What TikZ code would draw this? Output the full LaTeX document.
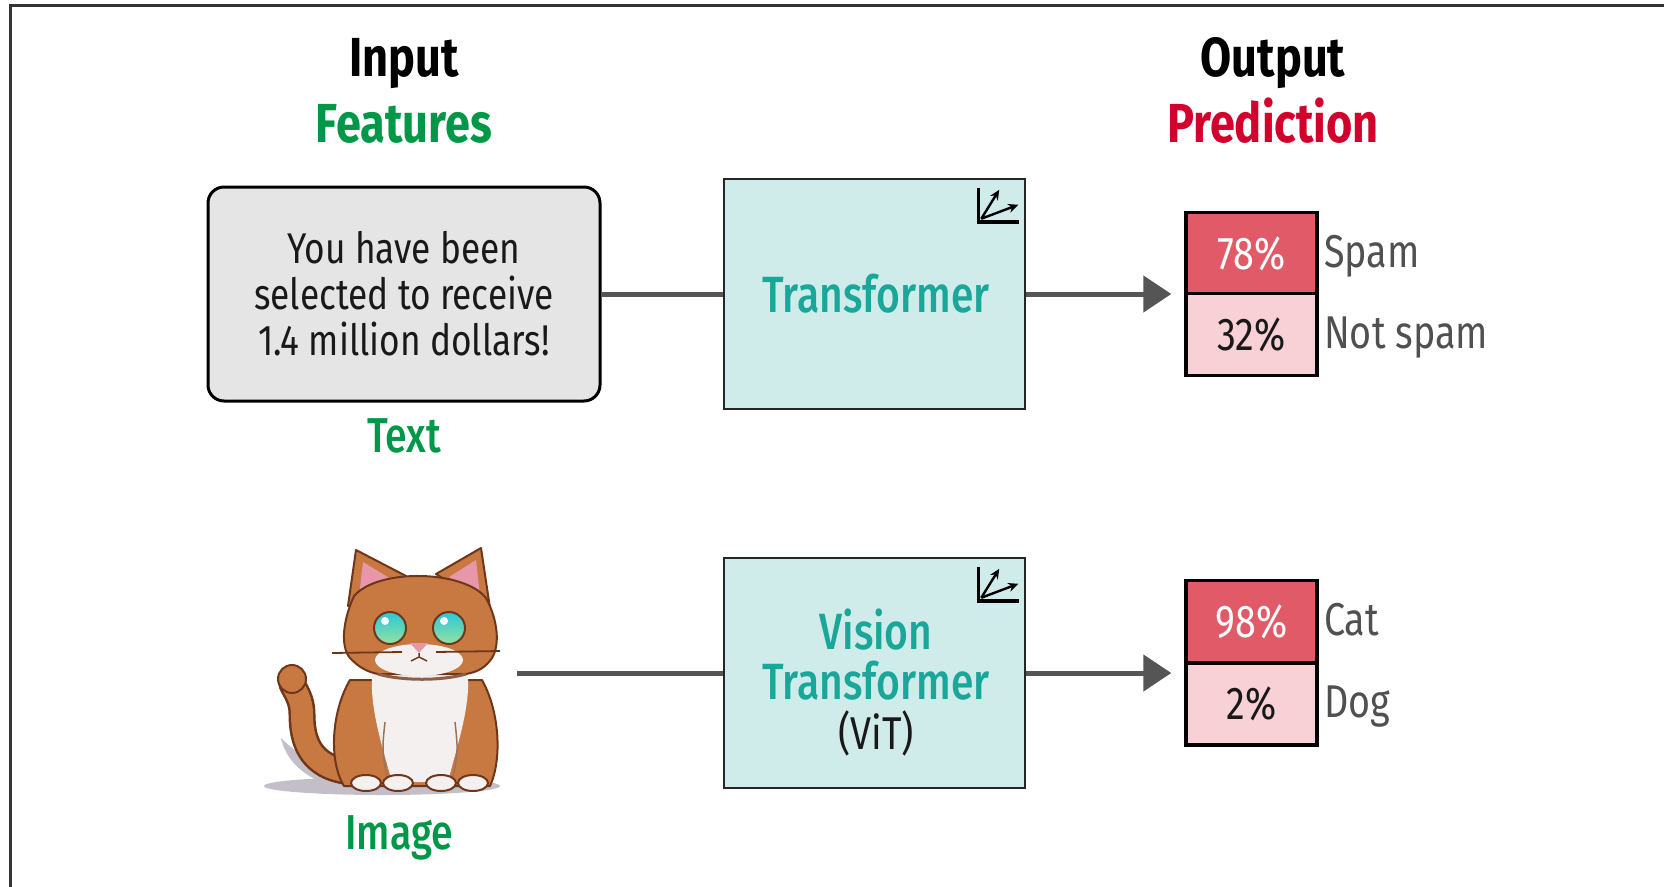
\documentclass[tikz,border=0pt]{standalone}
\usepackage{fontspec}
\setmainfont{Fira Sans}[FakeStretch=0.82]
\newfontfamily\medfont{Fira Sans Medium}[FakeStretch=0.8]
\usetikzlibrary{arrows.meta}

\definecolor{featgreen}{RGB}{0,152,72}
\definecolor{predred}{RGB}{210,0,45}
\definecolor{tealtext}{RGB}{26,167,154}
\definecolor{tealfill}{RGB}{208,236,234}
\definecolor{boxgray}{RGB}{229,229,229}
\definecolor{linkgray}{RGB}{85,85,85}
\definecolor{redhi}{RGB}{225,90,104}
\definecolor{redlo}{RGB}{248,209,214}
\definecolor{labelgray}{RGB}{80,80,80}
\definecolor{inktext}{RGB}{25,25,25}
\definecolor{catorange}{RGB}{200,120,65}
\definecolor{catdark}{RGB}{110,55,25}
\definecolor{catwhite}{RGB}{245,240,240}
\definecolor{catpink}{RGB}{232,150,170}
\definecolor{catshadow}{RGB}{195,190,200}
\definecolor{eyecyan}{RGB}{40,200,215}
\definecolor{eyegreen}{RGB}{150,225,160}

\tikzset{
  headtxt/.style={font=\bfseries\fontsize{55}{60}\selectfont, inner sep=0pt, anchor=base},
  sidelabel/.style={font=\medfont\fontsize{49}{55}\selectfont, text=featgreen, inner sep=0pt, anchor=base},
  graybox/.style={draw=black, line width=3pt, fill=boxgray, rounded corners=16pt,
    minimum width=392pt, minimum height=214pt, align=center, text=inktext,
    font=\fontsize{43}{46}\selectfont},
  tbox/.style={draw=black!85, line width=2.5pt, fill=tealfill,
    minimum width=301pt, minimum height=230pt},
  tflabel/.style={font=\medfont\fontsize{51}{50}\selectfont, text=tealtext, align=center, inner sep=0pt},
  link/.style={draw=linkgray, line width=5pt},
  arrowlink/.style={link, -{Triangle[length=28pt, width=36pt]}, shorten >=13pt},
  probcell/.style={draw=black, line width=3.5pt, minimum width=131pt, minimum height=82pt,
    inner sep=0pt, font=\fontsize{46}{50}\selectfont},
  probhi/.style={probcell, fill=redhi, text=white},
  problo/.style={probcell, fill=redlo, text=inktext},
  problabel/.style={font=\fontsize{46}{50}\selectfont, text=labelgray, inner sep=0pt, anchor=base west},
  axesicon/.pic={
    \draw[black, line width=3.5pt, line join=miter] (-48,10) -- (-48,44) -- (-7,44);
    \draw[black, line width=2.4pt, -{Stealth[length=10pt, width=9pt]}] (-45,41) -- (-27,12);
    \draw[black, line width=2.4pt, -{Stealth[length=10pt, width=9pt]}] (-45,41) -- (-8,27);
  },
  catline/.style={draw=catdark, line width=2pt, line join=round}
}

\begin{document}
\begin{tikzpicture}[x=1pt, y=-1pt]
\useasboundingbox (0,0) rectangle (1664,886);

% outer frame, running past the right and bottom edges
\begin{scope}
  \clip (0,0) rectangle (1664,886);
  \draw[line width=3pt, black!80] (10.5,5.5) rectangle (1720,940);
\end{scope}

% column headings
\node[headtxt] (inhead) at (404,76) {Input};
\node[headtxt, text=featgreen] (feat) at (404,142) {Features};
\node[headtxt] (outhead) at (1273,76) {Output};
\node[headtxt, text=predred] (pred) at (1273,142) {Prediction};

% ---- text row ----
\node[graybox] (txt) at (404,294) {You have been\\selected to receive\\1.4 million dollars!};
\node[sidelabel] (txtlabel) at (404,452) {Text};

\node[tbox] (tf) at (874.5,294) {};
\node[tflabel] (tflabel) at (876,294) {Transformer};
\pic at (tf.north east) {axesicon};

\node[probhi] (p78) at (1251.5,253.5) {78\%};
\node[problo] (p32) at (1251.5,334.5) {32\%};
\node[problabel] (lspam) at (1324,267) {Spam};
\node[problabel] (lnotspam) at (1324,348) {Not spam};

\draw[link] (txt.east) -- (tf.west);
\draw[arrowlink] (tf.east) -- (tf.east -| p78.west);

% ---- image row: a seated ginger cat ----
\begin{scope}
  % shadow on the ground
  \fill[catshadow] (382,786) ellipse [x radius=118, y radius=9];
  \fill[catshadow] (281,738) .. controls (288,770) and (320,786) .. (350,789) -- (350,772) .. controls (320,768) and (298,755) .. (281,738) -- cycle;
  % tail
  \draw[catdark, line width=27pt, line cap=round] (352,772) .. controls (308,768) and (302,738) .. (302,714) .. controls (302,700) and (296,692) .. (292,684);
  \draw[catorange, line width=22pt, line cap=round] (352,772) .. controls (308,768) and (302,738) .. (302,714) .. controls (302,700) and (296,692) .. (292,684);
  \filldraw[catline, fill=catorange] (292,679) circle (14);
  % body
  \filldraw[catline, fill=catorange] (350,680) .. controls (332,710) and (328,760) .. (344,786) -- (490,786) .. controls (502,760) and (500,712) .. (482,680) -- cycle;
  % white chest
  \fill[catwhite] (372,674) -- (468,674) .. controls (470,710) and (457,745) .. (448,782) -- (392,782) .. controls (382,745) and (370,710) .. (372,674) -- cycle;
  % front legs
  \draw[catdark!70, line width=1.5pt] (385,722) .. controls (382,750) .. (387,778);
  \draw[catdark!70, line width=1.5pt] (455,722) .. controls (458,750) .. (453,778);
  % paws
  \foreach \px in {366,398,441,473} {
    \filldraw[catline, fill=catwhite] (\px,783) ellipse [x radius=15, y radius=8];
  }
  % ears
  \filldraw[catline, fill=catorange] (348,606) -- (356,550) -- (406,576) -- cycle;
  \fill[catpink] (359,597) -- (363,562) -- (391,579) -- cycle;
  \filldraw[catline, fill=catorange] (436,574) -- (481,548) -- (490,608) -- cycle;
  \fill[catpink] (449,577) -- (476,560) -- (480,596) -- cycle;
  % head, with fluffy cheeks
  \filldraw[catline, fill=catorange] (354,596) .. controls (342,622) and (340,650) .. (352,660) .. controls (360,668) and (368,672) .. (378,674) -- (466,674) .. controls (478,672) and (486,667) .. (492,658) .. controls (500,645) and (498,620) .. (486,598) .. controls (464,570) and (378,568) .. (354,596) -- cycle;
  % muzzle
  \fill[catwhite] (419,660) ellipse [x radius=44, y radius=16];
  % eyes
  \foreach \ex in {390,449} {
    \filldraw[draw=catdark, line width=2pt, top color=eyecyan, bottom color=eyegreen] (\ex,628) circle (16);
    \fill[white] (\ex-5,621) circle (4);
  }
  % nose and mouth
  \fill[catpink] (410,643) -- (428,643) -- (419,653) -- cycle;
  \draw[catdark, line width=1.5pt] (419,653) -- (419,657) (411,661) -- (419,657) -- (427,661);
  % whiskers
  \draw[catdark, line width=1.8pt] (332,653) -- (402,652) (436,652) -- (500,651);
  % collar shade under the chin
  \draw[catdark!80, line width=3pt] (378,674) .. controls (402,681) and (442,681) .. (466,674);
\end{scope}
\coordinate (catport) at (517,673);
\node[sidelabel] (imglabel) at (399,849) {Image};

\node[tbox] (vit) at (874.5,673) {};
\node[tflabel] (vitlabel) at (876,683) {Vision\\Transformer\\\textcolor{inktext}{\fontspec{Fira Sans}[FakeStretch=0.82]\fontsize{46}{50}\selectfont(ViT)}};
\pic at (vit.north east) {axesicon};

\node[probhi] (p98) at (1251.5,621.5) {98\%};
\node[problo] (p2) at (1251.5,704) {2\%};
\node[problabel] (lcat) at (1324,635) {Cat};
\node[problabel] (ldog) at (1324,717.5) {Dog};

\draw[link] (catport) -- (vit.west);
\draw[arrowlink] (vit.east) -- (vit.east -| p98.west);
\end{tikzpicture}
\end{document}
